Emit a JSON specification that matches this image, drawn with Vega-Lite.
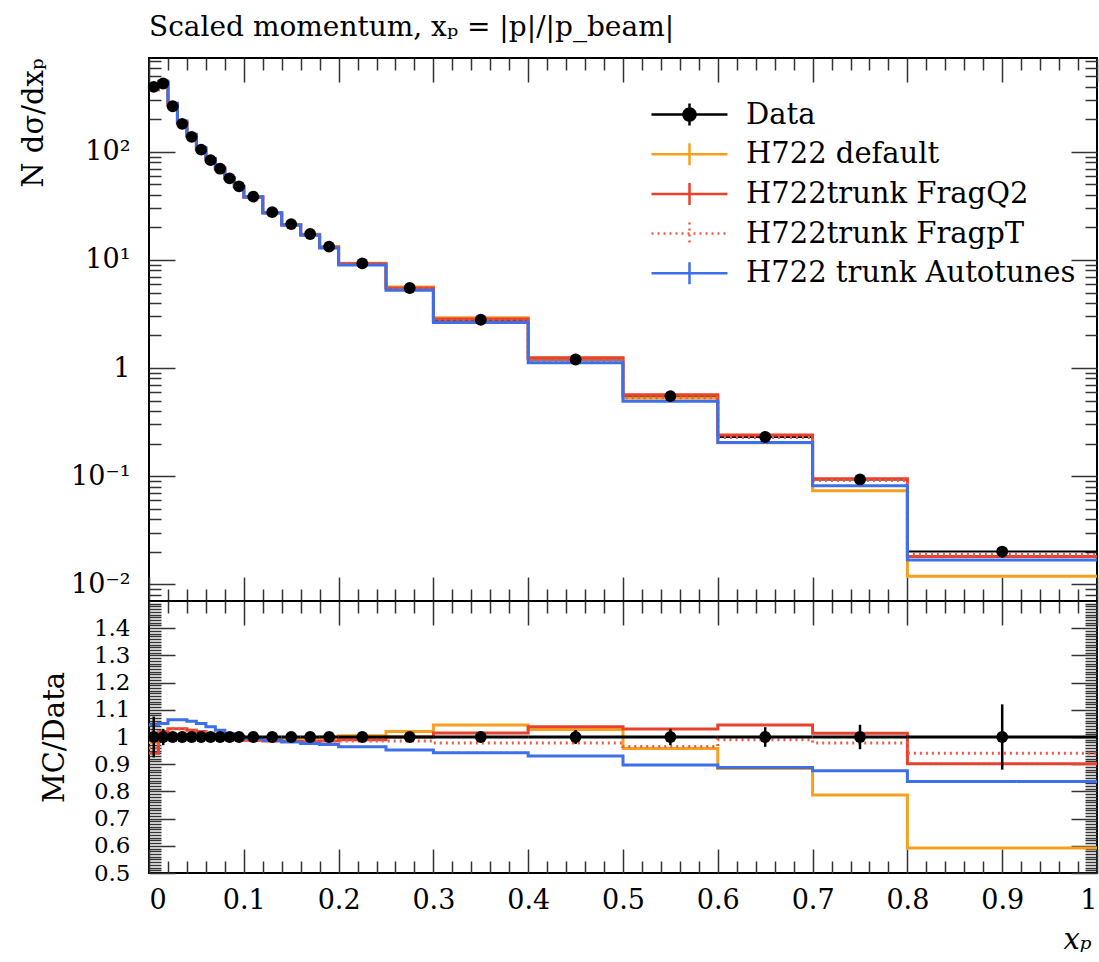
{
  "$schema": "https://vega.github.io/schema/vega-lite/v6.json",
  "padding": {"left": 18, "top": 14, "right": 2, "bottom": 10},
  "bounds": "flush",
  "spacing": 0,
  "background": "white",
  "title": {"text": "Scaled momentum, xₚ = |p|/|p_beam|", "anchor": "start", "frame": "group", "font": "DejaVu Serif", "fontSize": 28, "fontWeight": "normal", "color": "black", "offset": 14},
  "config": {
    "view": {"stroke": "black", "strokeWidth": 2},
    "axis": {"domain": false, "grid": false, "labelFont": "DejaVu Serif", "labelFontSize": 27, "labelColor": "black", "titleFont": "DejaVu Serif", "titleFontSize": 29, "titleFontWeight": "normal", "titleColor": "black", "tickColor": "#333", "tickWidth": 1.5}
  },
  "datasets": {
    "meas": [
      {"lo": 0, "hi": 0.01, "xc": 0.005, "y": 400, "ylo": 370, "yhi": 430, "r": 1, "rlo": 0.925, "rhi": 1.075},
      {"lo": 0.01, "hi": 0.02, "xc": 0.015, "y": 430, "ylo": 417.1, "yhi": 442.9, "r": 1, "rlo": 0.97, "rhi": 1.03},
      {"lo": 0.02, "hi": 0.03, "xc": 0.025, "y": 265, "ylo": 261, "yhi": 269, "r": 1, "rlo": 0.985, "rhi": 1.015},
      {"lo": 0.03, "hi": 0.04, "xc": 0.035, "y": 182, "ylo": 179.8, "yhi": 184.2, "r": 1, "rlo": 0.988, "rhi": 1.012},
      {"lo": 0.04, "hi": 0.05, "xc": 0.045, "y": 138, "ylo": 136.6, "yhi": 139.4, "r": 1, "rlo": 0.99, "rhi": 1.01},
      {"lo": 0.05, "hi": 0.06, "xc": 0.055, "y": 105, "ylo": 103.95, "yhi": 106.05, "r": 1, "rlo": 0.99, "rhi": 1.01},
      {"lo": 0.06, "hi": 0.07, "xc": 0.065, "y": 84, "ylo": 83.16, "yhi": 84.84, "r": 1, "rlo": 0.99, "rhi": 1.01},
      {"lo": 0.07, "hi": 0.08, "xc": 0.075, "y": 70, "ylo": 69.3, "yhi": 70.7, "r": 1, "rlo": 0.99, "rhi": 1.01},
      {"lo": 0.08, "hi": 0.09, "xc": 0.085, "y": 57, "ylo": 56.43, "yhi": 57.57, "r": 1, "rlo": 0.99, "rhi": 1.01},
      {"lo": 0.09, "hi": 0.1, "xc": 0.095, "y": 48, "ylo": 47.52, "yhi": 48.48, "r": 1, "rlo": 0.99, "rhi": 1.01},
      {"lo": 0.1, "hi": 0.12, "xc": 0.11, "y": 38.6, "ylo": 38.21, "yhi": 38.99, "r": 1, "rlo": 0.99, "rhi": 1.01},
      {"lo": 0.12, "hi": 0.14, "xc": 0.13, "y": 27.7, "ylo": 27.42, "yhi": 27.98, "r": 1, "rlo": 0.99, "rhi": 1.01},
      {"lo": 0.14, "hi": 0.16, "xc": 0.15, "y": 21.5, "ylo": 21.29, "yhi": 21.72, "r": 1, "rlo": 0.99, "rhi": 1.01},
      {"lo": 0.16, "hi": 0.18, "xc": 0.17, "y": 17.4, "ylo": 17.23, "yhi": 17.57, "r": 1, "rlo": 0.99, "rhi": 1.01},
      {"lo": 0.18, "hi": 0.2, "xc": 0.19, "y": 13.3, "ylo": 13.17, "yhi": 13.43, "r": 1, "rlo": 0.99, "rhi": 1.01},
      {"lo": 0.2, "hi": 0.25, "xc": 0.225, "y": 9.3, "ylo": 9.19, "yhi": 9.41, "r": 1, "rlo": 0.988, "rhi": 1.012},
      {"lo": 0.25, "hi": 0.3, "xc": 0.275, "y": 5.5, "ylo": 5.42, "yhi": 5.58, "r": 1, "rlo": 0.985, "rhi": 1.015},
      {"lo": 0.3, "hi": 0.4, "xc": 0.35, "y": 2.8, "ylo": 2.75, "yhi": 2.85, "r": 1, "rlo": 0.982, "rhi": 1.018},
      {"lo": 0.4, "hi": 0.5, "xc": 0.45, "y": 1.2, "ylo": 1.169, "yhi": 1.231, "r": 1, "rlo": 0.974, "rhi": 1.026},
      {"lo": 0.5, "hi": 0.6, "xc": 0.55, "y": 0.55, "ylo": 0.5335, "yhi": 0.5665, "r": 1, "rlo": 0.97, "rhi": 1.03},
      {"lo": 0.6, "hi": 0.7, "xc": 0.65, "y": 0.23, "ylo": 0.2217, "yhi": 0.2383, "r": 1, "rlo": 0.964, "rhi": 1.036},
      {"lo": 0.7, "hi": 0.8, "xc": 0.75, "y": 0.093, "ylo": 0.0888, "yhi": 0.0972, "r": 1, "rlo": 0.955, "rhi": 1.045},
      {"lo": 0.8, "hi": 1.0, "xc": 0.9, "y": 0.02, "ylo": 0.0176, "yhi": 0.0224, "r": 1, "rlo": 0.88, "rhi": 1.12}
    ],
    "mc": [
      {"series": "H722 default", "x": 0, "y": 392, "r": 0.98},
      {"series": "H722 default", "x": 0.01, "y": 430, "r": 1.0},
      {"series": "H722 default", "x": 0.02, "y": 267.7, "r": 1.01},
      {"series": "H722 default", "x": 0.03, "y": 183.8, "r": 1.01},
      {"series": "H722 default", "x": 0.04, "y": 138.7, "r": 1.005},
      {"series": "H722 default", "x": 0.05, "y": 105, "r": 1.0},
      {"series": "H722 default", "x": 0.06, "y": 84, "r": 1.0},
      {"series": "H722 default", "x": 0.07, "y": 69.65, "r": 0.995},
      {"series": "H722 default", "x": 0.08, "y": 56.43, "r": 0.99},
      {"series": "H722 default", "x": 0.09, "y": 47.52, "r": 0.99},
      {"series": "H722 default", "x": 0.1, "y": 38.21, "r": 0.99},
      {"series": "H722 default", "x": 0.12, "y": 27.42, "r": 0.99},
      {"series": "H722 default", "x": 0.14, "y": 21.29, "r": 0.99},
      {"series": "H722 default", "x": 0.16, "y": 17.31, "r": 0.995},
      {"series": "H722 default", "x": 0.18, "y": 13.3, "r": 1.0},
      {"series": "H722 default", "x": 0.2, "y": 9.35, "r": 1.005},
      {"series": "H722 default", "x": 0.25, "y": 5.61, "r": 1.02},
      {"series": "H722 default", "x": 0.3, "y": 2.923, "r": 1.044},
      {"series": "H722 default", "x": 0.4, "y": 1.234, "r": 1.028},
      {"series": "H722 default", "x": 0.5, "y": 0.527, "r": 0.958},
      {"series": "H722 default", "x": 0.6, "y": 0.2033, "r": 0.884},
      {"series": "H722 default", "x": 0.7, "y": 0.0732, "r": 0.787},
      {"series": "H722 default", "x": 0.8, "y": 0.01184, "r": 0.592},
      {"series": "H722 default", "x": 1.0, "y": 0.01184, "r": 0.592},
      {"series": "H722trunk FragQ2", "x": 0, "y": 376, "r": 0.94},
      {"series": "H722trunk FragQ2", "x": 0.01, "y": 438.6, "r": 1.02},
      {"series": "H722trunk FragQ2", "x": 0.02, "y": 273, "r": 1.03},
      {"series": "H722trunk FragQ2", "x": 0.03, "y": 187.5, "r": 1.03},
      {"series": "H722trunk FragQ2", "x": 0.04, "y": 141.5, "r": 1.025},
      {"series": "H722trunk FragQ2", "x": 0.05, "y": 107.1, "r": 1.02},
      {"series": "H722trunk FragQ2", "x": 0.06, "y": 84.84, "r": 1.01},
      {"series": "H722trunk FragQ2", "x": 0.07, "y": 70, "r": 1.0},
      {"series": "H722trunk FragQ2", "x": 0.08, "y": 56.72, "r": 0.995},
      {"series": "H722trunk FragQ2", "x": 0.09, "y": 47.52, "r": 0.99},
      {"series": "H722trunk FragQ2", "x": 0.1, "y": 38.14, "r": 0.988},
      {"series": "H722trunk FragQ2", "x": 0.12, "y": 27.28, "r": 0.985},
      {"series": "H722trunk FragQ2", "x": 0.14, "y": 21.13, "r": 0.983},
      {"series": "H722trunk FragQ2", "x": 0.16, "y": 17.1, "r": 0.983},
      {"series": "H722trunk FragQ2", "x": 0.18, "y": 13.1, "r": 0.985},
      {"series": "H722trunk FragQ2", "x": 0.2, "y": 9.207, "r": 0.99},
      {"series": "H722trunk FragQ2", "x": 0.25, "y": 5.5, "r": 1.0},
      {"series": "H722trunk FragQ2", "x": 0.3, "y": 2.842, "r": 1.015},
      {"series": "H722trunk FragQ2", "x": 0.4, "y": 1.246, "r": 1.038},
      {"series": "H722trunk FragQ2", "x": 0.5, "y": 0.566, "r": 1.029},
      {"series": "H722trunk FragQ2", "x": 0.6, "y": 0.2401, "r": 1.044},
      {"series": "H722trunk FragQ2", "x": 0.7, "y": 0.0943, "r": 1.014},
      {"series": "H722trunk FragQ2", "x": 0.8, "y": 0.01804, "r": 0.902},
      {"series": "H722trunk FragQ2", "x": 1.0, "y": 0.01804, "r": 0.902},
      {"series": "H722trunk FragpT", "x": 0, "y": 384, "r": 0.96},
      {"series": "H722trunk FragpT", "x": 0.01, "y": 438.6, "r": 1.02},
      {"series": "H722trunk FragpT", "x": 0.02, "y": 273, "r": 1.03},
      {"series": "H722trunk FragpT", "x": 0.03, "y": 187.5, "r": 1.03},
      {"series": "H722trunk FragpT", "x": 0.04, "y": 141.5, "r": 1.025},
      {"series": "H722trunk FragpT", "x": 0.05, "y": 107.1, "r": 1.02},
      {"series": "H722trunk FragpT", "x": 0.06, "y": 84.84, "r": 1.01},
      {"series": "H722trunk FragpT", "x": 0.07, "y": 70.35, "r": 1.005},
      {"series": "H722trunk FragpT", "x": 0.08, "y": 57, "r": 1.0},
      {"series": "H722trunk FragpT", "x": 0.09, "y": 47.76, "r": 0.995},
      {"series": "H722trunk FragpT", "x": 0.1, "y": 38.21, "r": 0.99},
      {"series": "H722trunk FragpT", "x": 0.12, "y": 27.37, "r": 0.988},
      {"series": "H722trunk FragpT", "x": 0.14, "y": 21.18, "r": 0.985},
      {"series": "H722trunk FragpT", "x": 0.16, "y": 17.14, "r": 0.985},
      {"series": "H722trunk FragpT", "x": 0.18, "y": 13.1, "r": 0.985},
      {"series": "H722trunk FragpT", "x": 0.2, "y": 9.16, "r": 0.985},
      {"series": "H722trunk FragpT", "x": 0.25, "y": 5.418, "r": 0.985},
      {"series": "H722trunk FragpT", "x": 0.3, "y": 2.738, "r": 0.978},
      {"series": "H722trunk FragpT", "x": 0.4, "y": 1.174, "r": 0.978},
      {"series": "H722trunk FragpT", "x": 0.5, "y": 0.531, "r": 0.965},
      {"series": "H722trunk FragpT", "x": 0.6, "y": 0.2277, "r": 0.99},
      {"series": "H722trunk FragpT", "x": 0.7, "y": 0.091, "r": 0.978},
      {"series": "H722trunk FragpT", "x": 0.8, "y": 0.0188, "r": 0.94},
      {"series": "H722trunk FragpT", "x": 1.0, "y": 0.0188, "r": 0.94},
      {"series": "H722 trunk Autotunes", "x": 0, "y": 418, "r": 1.045},
      {"series": "H722 trunk Autotunes", "x": 0.01, "y": 451.5, "r": 1.05},
      {"series": "H722 trunk Autotunes", "x": 0.02, "y": 281.7, "r": 1.063},
      {"series": "H722 trunk Autotunes", "x": 0.03, "y": 193.5, "r": 1.063},
      {"series": "H722 trunk Autotunes", "x": 0.04, "y": 146, "r": 1.058},
      {"series": "H722 trunk Autotunes", "x": 0.05, "y": 110.25, "r": 1.05},
      {"series": "H722 trunk Autotunes", "x": 0.06, "y": 87.19, "r": 1.038},
      {"series": "H722 trunk Autotunes", "x": 0.07, "y": 71.75, "r": 1.025},
      {"series": "H722 trunk Autotunes", "x": 0.08, "y": 57.68, "r": 1.012},
      {"series": "H722 trunk Autotunes", "x": 0.09, "y": 48.14, "r": 1.003},
      {"series": "H722 trunk Autotunes", "x": 0.1, "y": 38.41, "r": 0.995},
      {"series": "H722 trunk Autotunes", "x": 0.12, "y": 27.37, "r": 0.988},
      {"series": "H722 trunk Autotunes", "x": 0.14, "y": 21.11, "r": 0.982},
      {"series": "H722 trunk Autotunes", "x": 0.16, "y": 16.98, "r": 0.976},
      {"series": "H722 trunk Autotunes", "x": 0.18, "y": 12.93, "r": 0.972},
      {"series": "H722 trunk Autotunes", "x": 0.2, "y": 8.965, "r": 0.964},
      {"series": "H722 trunk Autotunes", "x": 0.25, "y": 5.236, "r": 0.952},
      {"series": "H722 trunk Autotunes", "x": 0.3, "y": 2.638, "r": 0.942},
      {"series": "H722 trunk Autotunes", "x": 0.4, "y": 1.116, "r": 0.93},
      {"series": "H722 trunk Autotunes", "x": 0.5, "y": 0.4934, "r": 0.897},
      {"series": "H722 trunk Autotunes", "x": 0.6, "y": 0.2042, "r": 0.888},
      {"series": "H722 trunk Autotunes", "x": 0.7, "y": 0.0815, "r": 0.876},
      {"series": "H722 trunk Autotunes", "x": 0.8, "y": 0.01672, "r": 0.836},
      {"series": "H722 trunk Autotunes", "x": 1.0, "y": 0.01672, "r": 0.836}
    ]
  },
  "resolve": {"scale": {"color": "independent"}, "legend": {"color": "independent"}},
  "vconcat": [
    {
      "width": 948,
      "height": 543,
      "resolve": {"axis": {"x": "independent", "y": "independent"}},
      "layer": [
        {
          "data": {"name": "meas"},
          "mark": {"type": "rule", "color": "black", "strokeWidth": 2},
          "encoding": {
            "x": {"field": "lo", "type": "quantitative", "scale": {"domain": [0, 1], "nice": false, "zero": false},
                  "axis": {"orient": "bottom", "values": [0.02,0.04,0.06,0.08,0.12,0.14,0.16,0.18,0.22,0.24,0.26,0.28,0.32,0.34,0.36,0.38,0.42,0.44,0.46,0.48,0.52,0.54,0.56,0.58,0.62,0.64,0.66,0.68,0.72,0.74,0.76,0.78,0.82,0.84,0.86,0.88,0.92,0.94,0.96,0.98], "tickSize": -12, "labels": false, "title": null}},
            "x2": {"field": "hi"},
            "y": {"field": "y", "type": "quantitative", "scale": {"type": "log", "domain": [0.00697, 741], "nice": false},
                  "axis": {"orient": "left", "values": [0.008,0.009,0.02,0.03,0.04,0.05,0.06,0.07,0.08,0.09,0.2,0.3,0.4,0.5,0.6,0.7,0.8,0.9,2,3,4,5,6,7,8,9,20,30,40,50,60,70,80,90,200,300,400,500,600,700], "tickSize": -12, "labels": false, "title": null}}
          }
        },
        {
          "data": {"name": "mc"},
          "mark": {"type": "line", "interpolate": "step-after", "strokeWidth": 3},
          "encoding": {
            "x": {"field": "x", "type": "quantitative",
                  "axis": {"orient": "bottom", "values": [0,0.1,0.2,0.3,0.4,0.5,0.6,0.7,0.8,0.9,1], "tickSize": -24, "labels": false, "title": null}},
            "y": {"field": "y", "type": "quantitative",
                  "axis": {"orient": "left", "values": [0.01, 0.1, 1, 10, 100], "tickSize": -26, "labelPadding": 45, "labelExpr": "datum.value >= 99 ? '10²' : datum.value >= 9 ? '10¹' : datum.value >= 0.9 ? '1' : datum.value >= 0.09 ? '10⁻¹' : '10⁻²'", "title": "N dσ/dxₚ", "titleAnchor": "end", "titlePadding": 22}},
            "color": {"field": "series", "type": "nominal",
                      "scale": {"domain": ["Data", "H722 default", "H722trunk FragQ2", "H722trunk FragpT", "H722 trunk Autotunes"], "range": ["black", "#F7A01F", "#E8412E", "#EE5A4A", "#3D6FE8"]},
                      "legend": {"orient": "none", "legendX": 498, "legendY": 42, "title": null, "labelFont": "DejaVu Serif", "labelFontSize": 29, "labelColor": "black", "labelLimit": 600, "labelOffset": 70, "rowPadding": 6.7, "symbolSize": 400, "symbolStrokeWidth": 2.5, "symbolType": "M-1,0H6.6M2.8,-1.1V1.1",
                                 "encode": {"symbols": {"update": {
                                   "shape": {"signal": "datum.value === 'Data' ? 'M-1,0H6.6M2.8,-1.1V1.1M3.4,0A0.6,0.6 0 1,1 2.2,0A0.6,0.6 0 1,1 3.4,0' : 'M-1,0H6.6M2.8,-1.1V1.1'"},
                                   "fill": {"signal": "datum.value === 'Data' ? 'black' : 'transparent'"},
                                   "strokeDash": {"signal": "datum.value === 'H722trunk FragpT' ? [2, 4] : [1, 0]"}
                                 }}}}},
            "strokeDash": {"condition": {"test": "datum.series === 'H722trunk FragpT'", "value": [2, 4]}, "value": [1, 0]}
          }
        },
        {
          "data": {"name": "meas"},
          "mark": {"type": "rule", "color": "black", "strokeWidth": 2.5},
          "encoding": {
            "x": {"field": "xc", "type": "quantitative",
                  "axis": {"orient": "top", "values": [0,0.1,0.2,0.3,0.4,0.5,0.6,0.7,0.8,0.9,1], "tickSize": -24, "labels": false, "title": null}},
            "y": {"field": "ylo", "type": "quantitative",
                  "axis": {"orient": "right", "values": [0.01, 0.1, 1, 10, 100], "tickSize": -26, "labels": false, "title": null}},
            "y2": {"field": "yhi"}
          }
        },
        {
          "data": {"name": "meas"},
          "mark": {"type": "point", "filled": true, "color": "black", "opacity": 1, "size": 140},
          "encoding": {
            "x": {"field": "xc", "type": "quantitative",
                  "axis": {"orient": "top", "values": [0.02,0.04,0.06,0.08,0.12,0.14,0.16,0.18,0.22,0.24,0.26,0.28,0.32,0.34,0.36,0.38,0.42,0.44,0.46,0.48,0.52,0.54,0.56,0.58,0.62,0.64,0.66,0.68,0.72,0.74,0.76,0.78,0.82,0.84,0.86,0.88,0.92,0.94,0.96,0.98], "tickSize": -12, "labels": false, "title": null}},
            "y": {"field": "y", "type": "quantitative",
                  "axis": {"orient": "right", "values": [0.008,0.009,0.02,0.03,0.04,0.05,0.06,0.07,0.08,0.09,0.2,0.3,0.4,0.5,0.6,0.7,0.8,0.9,2,3,4,5,6,7,8,9,20,30,40,50,60,70,80,90,200,300,400,500,600,700], "tickSize": -12, "labels": false, "title": null}}
          }
        }
      ]
    },
    {
      "width": 948,
      "height": 272,
      "resolve": {"axis": {"x": "independent", "y": "independent"}},
      "layer": [
        {
          "data": {"name": "mc"},
          "mark": {"type": "line", "interpolate": "step-after", "strokeWidth": 3},
          "encoding": {
            "x": {"field": "x", "type": "quantitative", "scale": {"domain": [0, 1], "nice": false, "zero": false},
                  "axis": {"orient": "bottom", "values": [0,0.1,0.2,0.3,0.4,0.5,0.6,0.7,0.8,0.9,1], "format": "~g", "tickSize": -24, "labelPadding": 38, "title": "xₚ", "titleX": 942, "titleAlign": "right", "titleFontStyle": "italic", "titlePadding": 12}},
            "y": {"field": "r", "type": "quantitative", "scale": {"domain": [0.5, 1.5], "nice": false, "zero": false},
                  "axis": {"orient": "left", "values": [0.5,0.6,0.7,0.8,0.9,1,1.1,1.2,1.3,1.4], "format": "~g", "labelFontSize": 23, "tickSize": -26, "labelPadding": 45, "title": "MC/Data", "titlePadding": 24}},
            "color": {"field": "series", "type": "nominal",
                      "scale": {"domain": ["Data", "H722 default", "H722trunk FragQ2", "H722trunk FragpT", "H722 trunk Autotunes"], "range": ["black", "#F7A01F", "#E8412E", "#EE5A4A", "#3D6FE8"]},
                      "legend": null},
            "strokeDash": {"condition": {"test": "datum.series === 'H722trunk FragpT'", "value": [2, 4]}, "value": [1, 0]}
          }
        },
        {
          "data": {"name": "meas"},
          "mark": {"type": "rule", "color": "black", "strokeWidth": 3},
          "encoding": {
            "x": {"field": "lo", "type": "quantitative",
                  "axis": {"orient": "bottom", "values": [0.02,0.04,0.06,0.08,0.12,0.14,0.16,0.18,0.22,0.24,0.26,0.28,0.32,0.34,0.36,0.38,0.42,0.44,0.46,0.48,0.52,0.54,0.56,0.58,0.62,0.64,0.66,0.68,0.72,0.74,0.76,0.78,0.82,0.84,0.86,0.88,0.92,0.94,0.96,0.98], "tickSize": -12, "labels": false, "title": null}},
            "x2": {"field": "hi"},
            "y": {"field": "r", "type": "quantitative",
                  "axis": {"orient": "left", "values": [0.51,0.52,0.53,0.54,0.55,0.56,0.57,0.58,0.59,0.61,0.62,0.63,0.64,0.65,0.66,0.67,0.68,0.69,0.71,0.72,0.73,0.74,0.75,0.76,0.77,0.78,0.79,0.81,0.82,0.83,0.84,0.85,0.86,0.87,0.88,0.89,0.91,0.92,0.93,0.94,0.95,0.96,0.97,0.98,0.99,1.01,1.02,1.03,1.04,1.05,1.06,1.07,1.08,1.09,1.11,1.12,1.13,1.14,1.15,1.16,1.17,1.18,1.19,1.21,1.22,1.23,1.24,1.25,1.26,1.27,1.28,1.29,1.31,1.32,1.33,1.34,1.35,1.36,1.37,1.38,1.39,1.41,1.42,1.43,1.44,1.45,1.46,1.47,1.48,1.49], "tickSize": -12, "labels": false, "title": null}}
          }
        },
        {
          "data": {"name": "meas"},
          "mark": {"type": "rule", "color": "black", "strokeWidth": 2.5},
          "encoding": {
            "x": {"field": "xc", "type": "quantitative",
                  "axis": {"orient": "top", "values": [0,0.1,0.2,0.3,0.4,0.5,0.6,0.7,0.8,0.9,1], "tickSize": -24, "labels": false, "title": null}},
            "y": {"field": "rlo", "type": "quantitative",
                  "axis": {"orient": "right", "values": [0.5,0.6,0.7,0.8,0.9,1,1.1,1.2,1.3,1.4], "tickSize": -26, "labels": false, "title": null}},
            "y2": {"field": "rhi"}
          }
        },
        {
          "data": {"name": "meas"},
          "mark": {"type": "point", "filled": true, "color": "black", "opacity": 1, "size": 140},
          "encoding": {
            "x": {"field": "xc", "type": "quantitative",
                  "axis": {"orient": "top", "values": [0.02,0.04,0.06,0.08,0.12,0.14,0.16,0.18,0.22,0.24,0.26,0.28,0.32,0.34,0.36,0.38,0.42,0.44,0.46,0.48,0.52,0.54,0.56,0.58,0.62,0.64,0.66,0.68,0.72,0.74,0.76,0.78,0.82,0.84,0.86,0.88,0.92,0.94,0.96,0.98], "tickSize": -12, "labels": false, "title": null}},
            "y": {"field": "r", "type": "quantitative",
                  "axis": {"orient": "right", "values": [0.51,0.52,0.53,0.54,0.55,0.56,0.57,0.58,0.59,0.61,0.62,0.63,0.64,0.65,0.66,0.67,0.68,0.69,0.71,0.72,0.73,0.74,0.75,0.76,0.77,0.78,0.79,0.81,0.82,0.83,0.84,0.85,0.86,0.87,0.88,0.89,0.91,0.92,0.93,0.94,0.95,0.96,0.97,0.98,0.99,1.01,1.02,1.03,1.04,1.05,1.06,1.07,1.08,1.09,1.11,1.12,1.13,1.14,1.15,1.16,1.17,1.18,1.19,1.21,1.22,1.23,1.24,1.25,1.26,1.27,1.28,1.29,1.31,1.32,1.33,1.34,1.35,1.36,1.37,1.38,1.39,1.41,1.42,1.43,1.44,1.45,1.46,1.47,1.48,1.49], "tickSize": -12, "labels": false, "title": null}}
          }
        }
      ]
    }
  ]
}
